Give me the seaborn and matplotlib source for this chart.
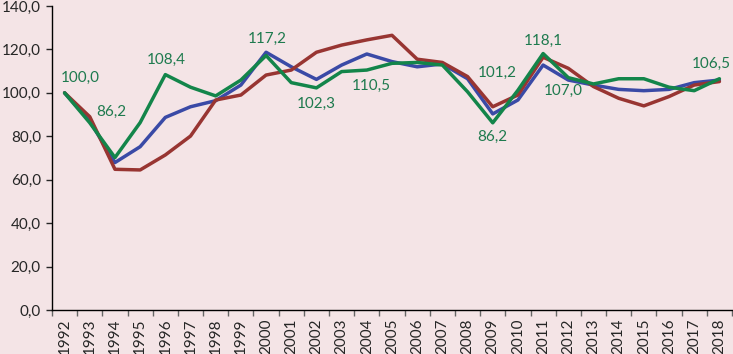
import numpy as np
import pandas as pd
import matplotlib
matplotlib.use("Agg")
import matplotlib.pyplot as plt
from matplotlib.ticker import MultipleLocator, FuncFormatter
import seaborn as sns

# data
years = list(range(1992, 2019))
blue = [100.0, 87.0, 67.9, 75.2, 88.7, 93.6, 96.4, 103.6, 118.7, 112.0, 106.2, 112.8, 117.9,
        114.4, 112.0, 113.3, 106.5, 90.3, 96.7, 112.8, 105.9, 103.6, 101.6, 101.0, 101.6, 104.7, 105.9]
red = [100.0, 89.0, 64.8, 64.5, 71.4, 80.1, 96.7, 99.0, 108.2, 110.5, 118.7, 122.0, 124.4,
       126.5, 115.5, 114.0, 107.5, 93.6, 99.0, 116.4, 111.3, 102.9, 97.5, 94.0, 98.3, 103.6, 105.2]
green = [100.0, 86.2, 70.2, 86.3, 108.4, 102.6, 98.6, 105.9, 117.2, 104.7, 102.3, 109.8, 110.5,
         113.6, 114.0, 112.8, 100.5, 86.2, 101.2, 118.1, 107.0, 104.1, 106.5, 106.5, 102.6, 101.0, 106.5]

# labelled green points and where their text sits (offset in pixels)
label_years = [1992, 1993, 1996, 2000, 2002, 2004, 2009, 2010, 2011, 2012, 2018]
label_offsets = [(16, 15), (22, 11), (1, 15), (1, 17), (0, -16), (4, -16),
                 (0, -14), (-21, 17), (0, 13), (-5, -13), (-8, 15)]

bg = "#F4E4E6"
colors = {"blue": "#3A4AA6", "red": "#983532", "green": "#13854A"}

df = pd.DataFrame({
    "year": years * 3,
    "value": blue + red + green,
    "series": ["blue"] * 27 + ["red"] * 27 + ["green"] * 27,
})

sns.set_style("white")
plt.rcParams["font.family"] = ["Lato", "DejaVu Sans"]

fig = plt.figure(figsize=(7.33, 3.54), dpi=100, facecolor=bg)
ax = fig.add_axes([52 / 733, 44 / 354, 680 / 733, 304 / 354])
ax.set_facecolor(bg)

sns.lineplot(data=df, x="year", y="value", hue="series", palette=colors,
             linewidth=2.5, legend=False, ax=ax)

for yr, (dx, dy) in zip(label_years, label_offsets):
    v = green[years.index(yr)]
    ax.annotate(f"{v:.1f}".replace(".", ","), xy=(yr, v), xytext=(dx, dy),
                textcoords="offset pixels", ha="center", va="center",
                fontsize=11, color="#1E7A4E", annotation_clip=False)

ax.set_xlim(1991.5, 2018.5)
ax.set_ylim(0, 140)
ax.yaxis.set_major_locator(MultipleLocator(20))
ax.yaxis.set_major_formatter(FuncFormatter(lambda v, p: f"{v:.1f}".replace(".", ",")))
ax.set_xticks(years)
ax.set_xticklabels([str(y) for y in years], rotation=90)
ax.set_xticks(np.arange(1991.5, 2019, 1), minor=True)
ax.tick_params(axis="x", which="major", length=0, pad=6, labelsize=11)
ax.tick_params(axis="x", which="minor", length=4, width=1, color="#666666", direction="out", bottom=True)
ax.tick_params(axis="y", length=4, width=1, direction="out", left=True, labelsize=11, pad=4)

for s in ["top", "right"]:
    ax.spines[s].set_visible(False)
for s in ["left", "bottom"]:
    ax.spines[s].set_color("black")
    ax.spines[s].set_linewidth(1)

ax.set_xlabel("")
ax.set_ylabel("")

fig.savefig("out.png", dpi=100, facecolor=bg)
